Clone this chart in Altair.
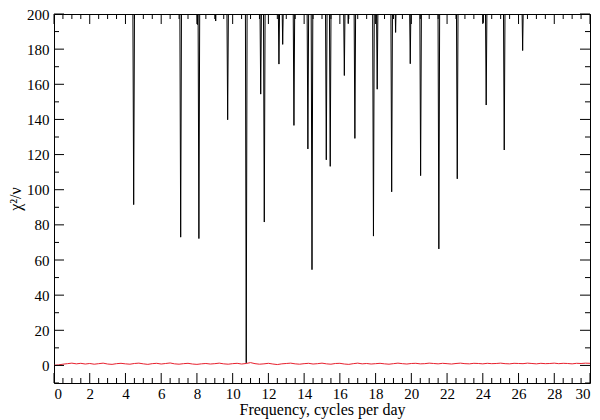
import altair as alt
import pandas as pd

# Black curve: positions (cycles/day) and minimum chi^2/nu of each dip; elsewhere it is above 200 (clipped)
dip_freq = [4.46, 7.09, 8.03, 8.11, 9.05, 9.72, 10.76, 11.57, 11.77, 12.59, 12.80, 13.43,
            14.21, 14.44, 15.24, 15.46, 16.25, 16.47, 16.84, 17.88, 18.09, 18.90, 19.12,
            19.94, 20.52, 21.54, 22.57, 24.02, 24.19, 25.20, 26.23]
dip_value = [91.5, 73.0, 194.0, 72.2, 196.0, 139.8, 1.5, 154.4, 81.6, 171.5, 182.7, 136.6,
             123.2, 54.5, 117.0, 113.3, 165.0, 194.5, 129.2, 73.6, 157.2, 98.8, 189.5,
             171.7, 108.0, 66.3, 106.2, 195.0, 148.2, 122.6, 179.2]
off_scale_level = 215.0

# Red curve: sampled every 0.25 cycles/day from 0 to 30
red_step = 0.25
red_value = [
    0.1, 0.3, 0.7, 1.0, 1.3, 0.9, 1.2, 0.8, 1.1, 0.7,
    1.0, 1.3, 0.8, 0.6, 1.0, 1.2, 0.9, 0.7, 1.1, 1.3,
    0.9, 0.6, 1.0, 1.2, 0.8, 1.1, 1.4, 0.9, 0.7, 1.0,
    1.2, 0.8, 0.6, 0.9, 1.1, 0.8, 1.0, 1.3, 0.9, 0.7,
    1.0, 1.2, 0.8, 1.1, 1.6, 1.0, 0.7, 0.9, 1.2, 0.8,
    0.5, 0.9, 1.1, 1.3, 0.9, 0.7, 1.0, 1.2, 0.8, 1.0,
    1.3, 0.9, 0.7, 1.1, 1.2, 0.8, 0.6, 1.0, 1.3, 0.9,
    1.1, 0.8, 1.0, 1.2, 0.9, 0.7, 1.0, 1.3, 1.0, 0.8,
    1.1, 1.2, 0.9, 1.0, 1.3, 1.1, 0.9, 1.2, 1.0, 0.8,
    1.1, 1.3, 1.0, 0.9, 1.2, 1.1, 0.9, 1.2, 1.0, 1.1,
    1.3, 1.0, 0.9, 1.2, 1.1, 1.0, 1.3, 1.1, 0.9, 1.2,
    1.0, 1.1, 1.3, 1.0, 1.2, 1.1, 0.9, 1.2, 1.1, 1.3,
    1.2,
]

x_major = list(range(0, 31, 2))
x_minor = [i * 0.5 for i in range(61) if (i * 0.5) % 2 != 0]
y_major = list(range(0, 201, 20))
y_minor = list(range(-10, 200, 20))

W, H = 536, 369
HALF = 0.05
FONT = "'Liberation Serif', 'DejaVu Serif', serif"

# build black curve table
bx, by = [0.0], [off_scale_level]
for f, v in zip(dip_freq, dip_value):
    bx += [f - HALF, f, f + HALF]
    by += [off_scale_level, v, off_scale_level]
bx.append(30.0)
by.append(off_scale_level)
black_df = pd.DataFrame({"f": bx, "v": by, "i": range(len(bx))})
red_df = pd.DataFrame({"f": [i * red_step for i in range(len(red_value))], "v": red_value})

xs = alt.Scale(domain=[0, 30], nice=False, zero=False)
ys = alt.Scale(domain=[-10, 200], nice=False, zero=False)
xaxis = alt.Axis(values=x_major, title="Frequency, cycles per day",
                 ticks=False, domain=False, labelPadding=3, titlePadding=0,
                 labelFont=FONT, titleFont=FONT)
yaxis = alt.Axis(values=y_major, title="χ²/ν",
                 ticks=False, domain=False, labelPadding=5, titlePadding=3,
                 labelFont=FONT, titleFont=FONT)


def X(field):
    return alt.X(field, scale=xs, axis=xaxis)


def Y(field):
    return alt.Y(field, scale=ys, axis=yaxis)


black = alt.Chart(black_df).mark_line(color="black", strokeWidth=1, clip=True).encode(
    x=X("f:Q"), y=Y("v:Q"), order="i:Q",
)
red = alt.Chart(red_df).mark_line(color="#e8202e", strokeWidth=1, clip=True).encode(
    x=X("f:Q"), y=Y("v:Q")
)


def xticks(vals, L):
    d = pd.DataFrame({"t": vals})
    bot = alt.Chart(d).mark_rule(color="black", strokeWidth=1).encode(
        x=X("t:Q"), y=alt.value(H), y2=alt.value(H - L))
    top = alt.Chart(d).mark_rule(color="black", strokeWidth=1).encode(
        x=X("t:Q"), y=alt.value(0), y2=alt.value(L))
    return [bot, top]


def yticks(vals, L):
    d = pd.DataFrame({"t": vals})
    left = alt.Chart(d).mark_rule(color="black", strokeWidth=1).encode(
        y=Y("t:Q"), x=alt.value(0), x2=alt.value(L))
    right = alt.Chart(d).mark_rule(color="black", strokeWidth=1).encode(
        y=Y("t:Q"), x=alt.value(W), x2=alt.value(W - L))
    return [left, right]


layers = [red, black] + xticks(x_major, 10) + xticks(x_minor, 5) + yticks(y_major, 10) + yticks(y_minor, 5)

chart = alt.layer(*layers).properties(
    width=W, height=H,
    padding={"left": 46, "top": 6, "right": 2, "bottom": 36},
    autosize=alt.AutoSizeParams(type="none"),
).configure_view(stroke="black", strokeWidth=1).configure_axis(
    labelFont=FONT, labelFontSize=15, labelColor="black",
    titleFont=FONT, titleFontSize=16, titleFontWeight="normal", titleColor="black",
    grid=False,
)

chart.save("out.html", embed_options={"renderer": "svg", "actions": False})
